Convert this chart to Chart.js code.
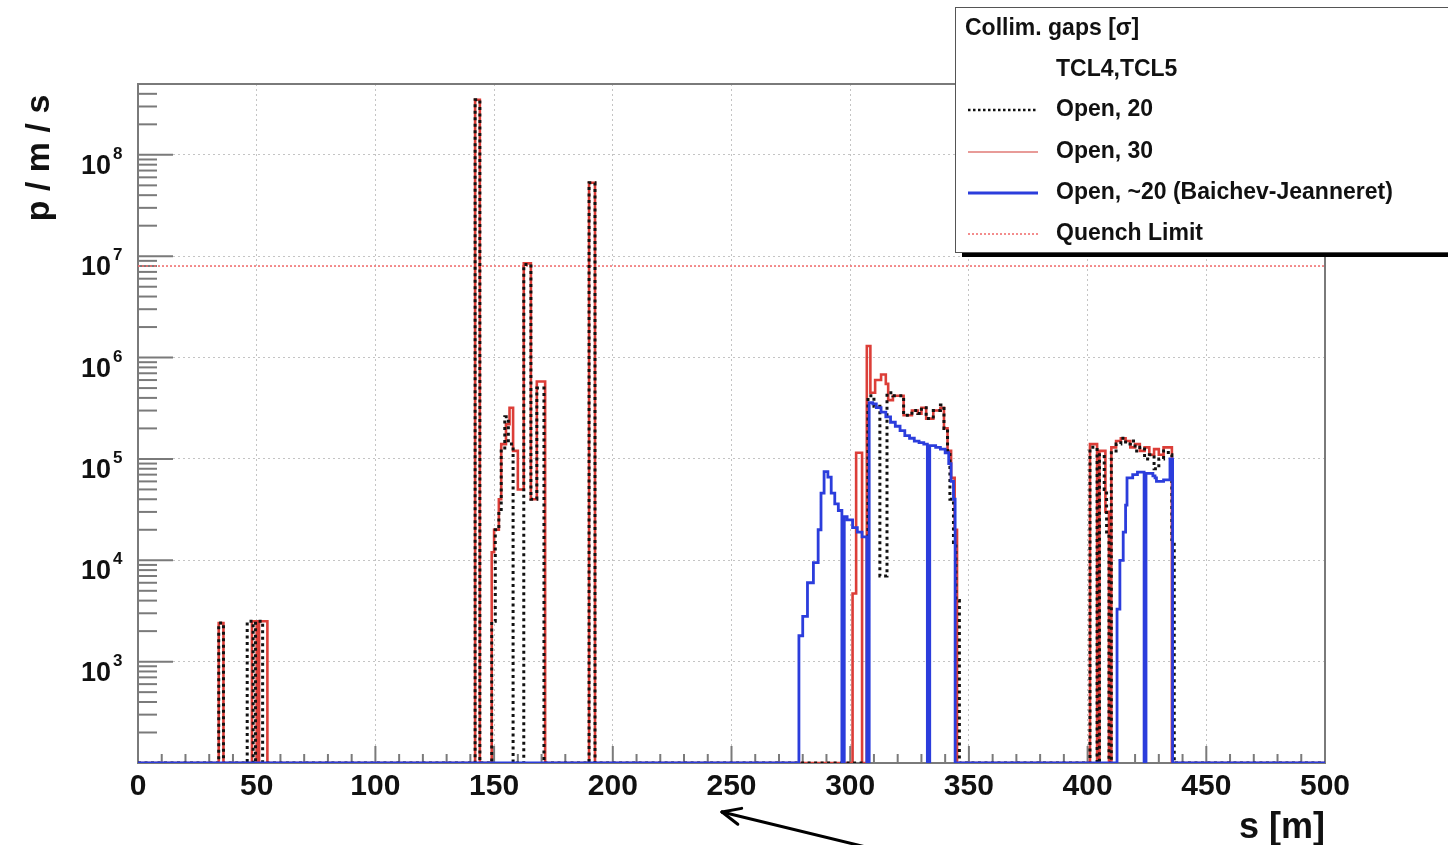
<!DOCTYPE html>
<html lang="en">
<head>
<meta charset="utf-8" />
<title>Loss map p / m / s vs s</title>
<style>
body{margin:0;background:#fff;}
#wrap{position:relative;width:1448px;height:845px;}
</style>
</head>
<body>
<div id="wrap"><canvas id="lossChart"></canvas></div>

<script src="https://cdn.jsdelivr.net/npm/chart.js@4.4.1/dist/chart.umd.min.js"></script>
<script>
/* ---------- data (s in m, value in p/m/s) ---------- */
const ZERO = 100;          // empty bins sit on the axis floor
const quenchLimit = 8e6;

/* Open, 20 */
const s20 = [0,34,36,46,48.5,49.5,52.5,142,144,149,150.5,152,153,154.5,156,158,162.5,165.5,168,171,190,192.5,
  307.5,310,312.5,315.5,318,322.5,326,328.5,330,332,335,338,339.5,341,342,343.5,344.5,346,
  401,404,405,407,408,409,410,412,414,416,418,420,422,424,426,428,430,432,434,435.5,436.5,500];
const v20 = [ZERO,2.4e3,ZERO,2.5e3,ZERO,2.5e3,ZERO,3.5e8,ZERO,2.5e3,2e4,3e4,1.2e5,2.6e5,1.4e5,ZERO,8.3e6,4e4,5e5,ZERO,5.3e7,ZERO,
  4.2e5,3.3e5,7e3,4.5e5,4.2e5,2.7e5,3e5,2.8e5,3.2e5,2.5e5,3e5,3.4e5,2e5,1.2e5,4e4,1.5e4,4e3,ZERO,
  1.3e5,ZERO,1.1e5,5e4,1.8e4,ZERO,1.2e5,1.4e5,1.6e5,1.4e5,1.5e5,1.2e5,1.3e5,1e5,1.1e5,8e4,1e5,1.2e5,1.1e5,1.6e4,ZERO,ZERO];

/* Open, 30 */
const s30 = [0,34,36,48,50,51,54.5,142,144,149,150,152,153,155,156.5,158,160,162.5,165.5,168,171.5,190,192.5,
  301,302.5,305,307,308.5,310.5,313,315,316,318,322.5,326,328.5,330,332,335,338,339.5,341,342.5,344,345,
  401,404,405,407.5,409,410,412,414,416,418,420,422,424,426,428,430,432,434,435.5,500];
const v30 = [ZERO,2.4e3,ZERO,2.5e3,ZERO,2.5e3,ZERO,3.5e8,ZERO,1.2e4,2e4,4e4,1.4e5,2.2e5,3.2e5,1.2e5,5e4,8.5e6,4e4,5.8e5,ZERO,5.3e7,ZERO,
  4.7e3,1.15e5,ZERO,1.3e6,4.5e5,6e5,6.8e5,5.5e5,3.8e5,4.2e5,2.7e5,3e5,2.8e5,3.2e5,2.5e5,3e5,3.2e5,2e5,1.2e5,6.5e4,2e4,ZERO,
  1.4e5,ZERO,1.2e5,3e4,ZERO,1.3e5,1.5e5,1.6e5,1.5e5,1.3e5,1.4e5,1.2e5,1.3e5,1.1e5,1.25e5,1.1e5,1.3e5,1.3e5,ZERO,ZERO];

/* Open, ~20 (Baichev-Jeanneret) */
const sBJ = [0,278.4,280,282,284.5,286.5,287.7,289,290.6,292,293.5,295,296.5,297.5,298.7,301,303,305,307,308,
  309.5,311,313,315,317,319,321,323,325,327,329,331,332.5,333.5,336,338,340,341.5,342.5,343.5,
  344.2,412.4,413.6,415,416,416.6,419,421,423.8,424.6,427.5,428.4,429,432,434.7,435.8,500];
const vBJ = [ZERO,1.8e3,2.8e3,6e3,9.5e3,2e4,4.6e4,7.5e4,6.6e4,4.6e4,3.6e4,3.1e4,ZERO,2.7e4,2.5e4,2.1e4,1.9e4,1.7e4,ZERO,3.6e5,
  3.5e5,3.2e5,2.9e5,2.6e5,2.3e5,2.1e5,1.9e5,1.7e5,1.6e5,1.5e5,1.45e5,1.4e5,ZERO,1.35e5,1.3e5,1.25e5,1.15e5,9e4,6e4,4e4,
  ZERO,3.3e3,1e4,1.9e4,3.5e4,6.5e4,7e4,7.4e4,ZERO,7.2e4,6.8e4,6.5e4,6e4,6.2e4,1e5,ZERO,ZERO];

const yDecades = [2,3,4,5,6,7,8];
const yLabelDecades = [3,4,5,6,7,8];

const FONT = '"Liberation Sans", Arial, Helvetica, sans-serif';
const toXY = (s,v) => s.map((x,i)=>({x, y:v[i]}));

/* ---------- frame, ticks, labels, arrow ---------- */
const rootFrame = {
  id:'rootFrame',
  beforeDatasetsDraw(chart){
    const {ctx, chartArea:a, scales:{x, y}} = chart;
    ctx.save();
    ctx.strokeStyle = '#7a7a7a';
    ctx.lineWidth = 2;
    // y ticks (inside, from the left axis)
    for (let n = 2; n <= 8; n++){
      for (let k = 1; k <= 9; k++){
        const v = k * Math.pow(10, n);
        if (v > y.max) break;
        const py = y.getPixelForValue(v);
        const len = k === 1 ? 35 : 19;
        ctx.beginPath(); ctx.moveTo(a.left, py); ctx.lineTo(a.left + len, py); ctx.stroke();
      }
    }
    // x ticks (inside, from the bottom axis)
    for (let s = 0; s <= 500; s += 10){
      const px = x.getPixelForValue(s);
      const len = s % 50 === 0 ? 17 : 9;
      ctx.beginPath(); ctx.moveTo(px, a.bottom); ctx.lineTo(px, a.bottom - len); ctx.stroke();
    }
    ctx.strokeRect(a.left, a.top, a.right - a.left, a.bottom - a.top);
    ctx.restore();
  },
  afterDraw(chart){
    const {ctx, chartArea:a, scales:{y}} = chart;
    ctx.save();
    ctx.fillStyle = '#111';
    // y labels 10^n
    yLabelDecades.forEach(n=>{
      const py = y.getPixelForValue(Math.pow(10, n));
      ctx.font = 'bold 27px ' + FONT;
      ctx.textAlign = 'right'; ctx.textBaseline = 'alphabetic';
      ctx.fillText('10', 111, py + 19);
      ctx.font = 'bold 17px ' + FONT;
      ctx.textAlign = 'left';
      ctx.fillText(String(n), 113, py + 4);
    });
    // axis titles
    ctx.font = 'bold 34px ' + FONT;
    ctx.save();
    ctx.translate(49, 158);
    ctx.rotate(-Math.PI/2);
    ctx.textAlign = 'center';
    ctx.fillText('p / m / s', 0, 0);
    ctx.restore();
    ctx.font = 'bold 36px ' + FONT;
    ctx.textAlign = 'right';
    ctx.fillText('s [m]', a.right, 838);

    // arrow
    const tip = {x:722, y:812}, tail = {x:870, y:848};
    const ang = Math.atan2(tail.y - tip.y, tail.x - tip.x);
    ctx.strokeStyle = '#000'; ctx.lineWidth = 3; ctx.lineCap = 'round';
    ctx.beginPath(); ctx.moveTo(tail.x, tail.y); ctx.lineTo(tip.x, tip.y); ctx.stroke();
    [0.42, -0.42].forEach(d=>{
      ctx.beginPath(); ctx.moveTo(tip.x, tip.y);
      ctx.lineTo(tip.x + 20*Math.cos(ang + d), tip.y + 20*Math.sin(ang + d));
      ctx.stroke();
    });
    ctx.restore();
  }
};

/* ---------- ROOT style legend box ---------- */
const rootLegend = {
  id:'rootLegend',
  afterDraw(chart){
    const {ctx} = chart;
    const ds = chart.data.datasets;
    const bx = 955, by = 7, bw = 520, bh = 245;
    ctx.save();
    ctx.fillStyle = '#000';
    ctx.fillRect(bx + 7, by + 5, bw, bh);
    ctx.fillStyle = '#fff';
    ctx.fillRect(bx, by, bw, bh);
    ctx.strokeStyle = '#555'; ctx.lineWidth = 1;
    ctx.strokeRect(bx + 0.5, by + 0.5, bw, bh);

    ctx.fillStyle = '#111';
    ctx.textBaseline = 'middle'; ctx.textAlign = 'left';
    ctx.font = 'bold 23px ' + FONT;
    ctx.fillText('Collim. gaps [\u03c3]', 965, 29);
    ctx.fillText('TCL4,TCL5', 1056, 70);

    const rows = [110, 152, 193, 234];
    [0,1,2,3].forEach((i, r)=>{
      const d = ds[i], yy = rows[r];
      ctx.save();
      ctx.strokeStyle = d.legendColor || d.borderColor;
      ctx.lineWidth = d.legendWidth || d.borderWidth;
      ctx.setLineDash(d.legendDash || d.borderDash || []);
      ctx.beginPath(); ctx.moveTo(968, yy); ctx.lineTo(1038, yy); ctx.stroke();
      ctx.restore();
      ctx.fillText(d.label, 1056, yy);
    });
    ctx.restore();
  }
};

Chart.register(rootFrame, rootLegend);
Chart.defaults.animation = false;

new Chart(document.getElementById('lossChart'), {
  type:'line',
  data:{datasets:[
    {label:'Open, 20', data:toXY(s20, v20), stepped:true, borderColor:'#111', borderWidth:3,
     borderDash:[3,3.5], legendWidth:2.6, legendDash:[2.5,2.5], pointRadius:0, order:1},
    {label:'Open, 30', data:toXY(s30, v30), stepped:true, borderColor:'#dc3e38', borderWidth:2.6,
     legendColor:'#e07a76', legendWidth:1.5, pointRadius:0, order:2},
    {label:'Open, ~20 (Baichev-Jeanneret)', data:toXY(sBJ, vBJ), stepped:true, borderColor:'#2b3ddc',
     borderWidth:2.8, legendWidth:3, pointRadius:0, order:0},
    {label:'Quench Limit', data:[{x:0, y:quenchLimit}, {x:500, y:quenchLimit}], borderColor:'#f07070',
     borderWidth:1.6, borderDash:[2,2], pointRadius:0, order:3}
  ]},
  options:{
    responsive:true,
    maintainAspectRatio:false,
    layout:{padding:{left:0, right:123, top:84, bottom:0}},
    plugins:{legend:{display:false}, tooltip:{enabled:false}},
    scales:{
      x:{
        type:'linear', min:0, max:500,
        afterFit(scale){ scale.height = 82; },
        ticks:{stepSize:50, autoSkip:false, maxRotation:0, padding:6, color:'#111',
               font:{family:FONT, size:30, weight:'bold'}},
        grid:{color:'#c4c4c4', lineWidth:1, drawTicks:false},
        border:{display:false, dash:[2,3]}
      },
      y:{
        type:'logarithmic', min:ZERO, max:5e8,
        afterFit(scale){ scale.width = 138; },
        afterBuildTicks(scale){ scale.ticks = yDecades.map(n=>({value:Math.pow(10, n)})); },
        ticks:{display:false},
        grid:{color:'#c4c4c4', lineWidth:1, drawTicks:false},
        border:{display:false, dash:[2,3]}
      }
    }
  }
});
</script>
</body>
</html>
